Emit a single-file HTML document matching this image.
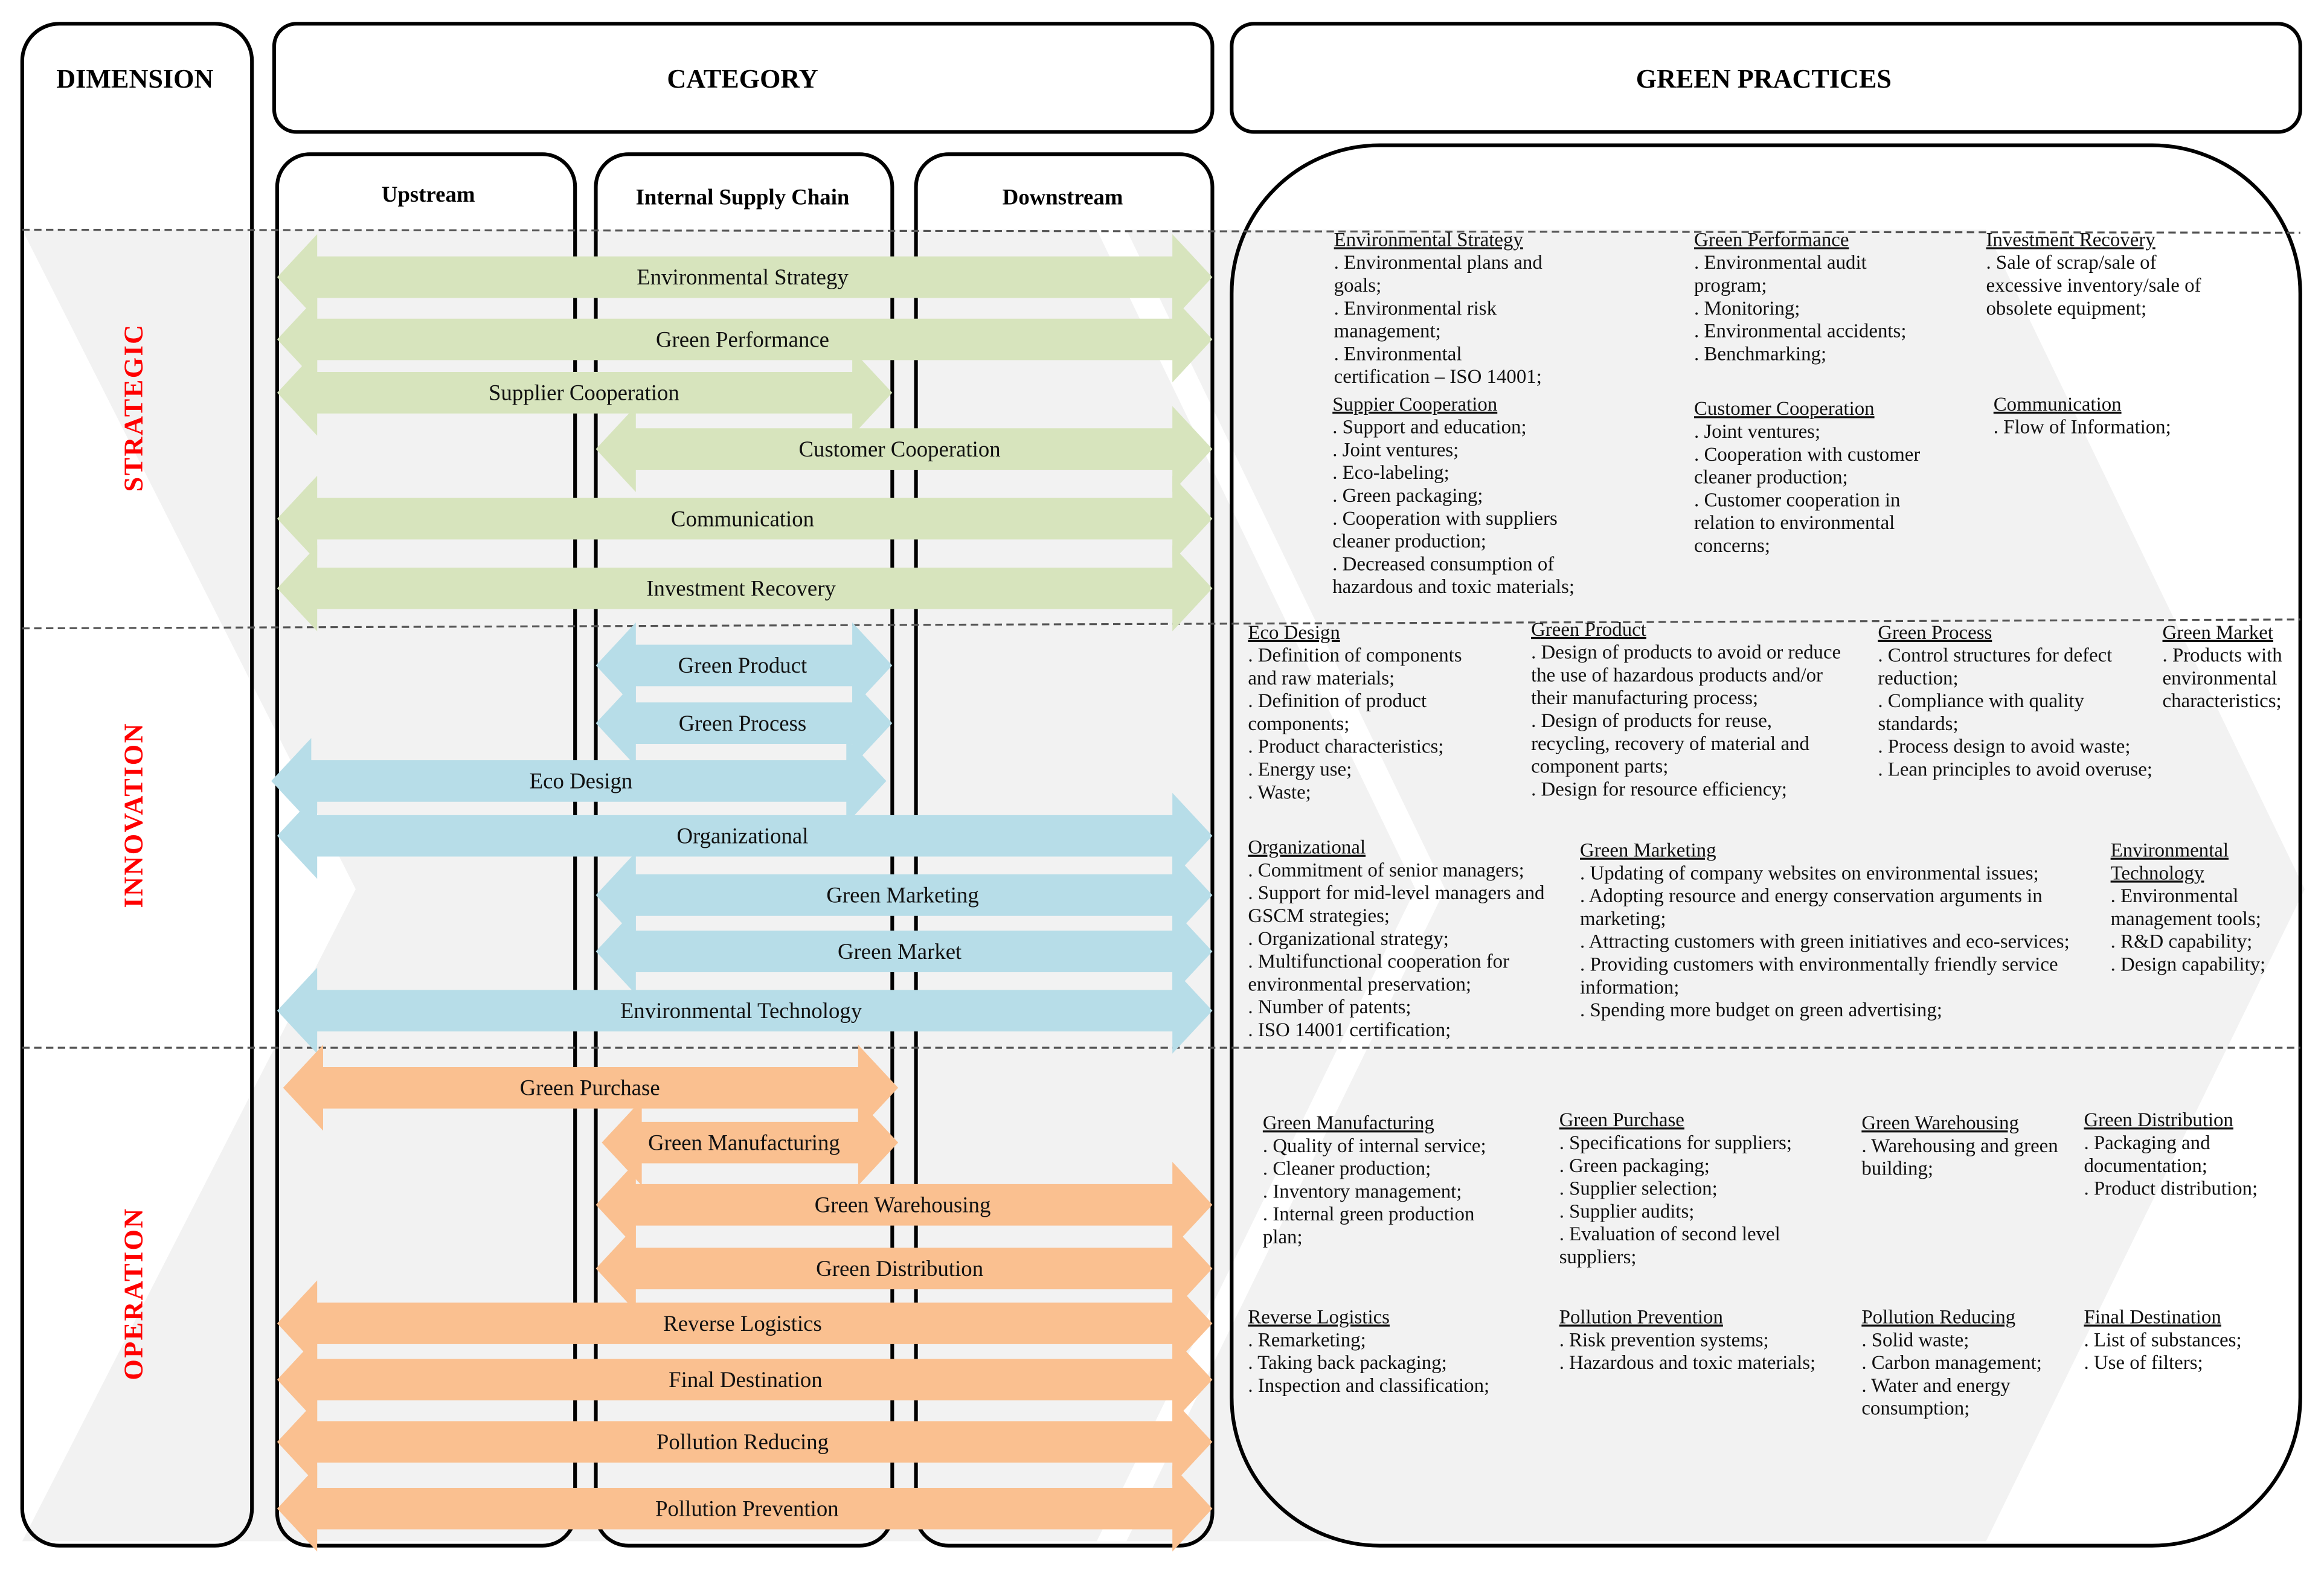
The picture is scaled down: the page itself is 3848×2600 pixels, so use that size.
<!DOCTYPE html>
<html><head><meta charset="utf-8"><style>
html,body{margin:0;padding:0;background:#fff;}
svg{display:block;}
.h{font-family:"Liberation Serif",serif;font-weight:bold;}
.a{font-family:"Liberation Serif",serif;font-size:15px;text-anchor:middle;fill:#111;}
.t{font-family:"Liberation Serif",serif;font-size:13.4px;fill:#111;}
.u{text-decoration:underline;}
.r{font-family:"Liberation Serif",serif;font-weight:bold;font-size:18px;fill:#f00;text-anchor:middle;letter-spacing:1px;}
</style></head><body>
<svg width="3848" height="2600" viewBox="0 0 1568 1059.4" xmlns="http://www.w3.org/2000/svg">
<defs>
<polygon id="A" points="187,0 214,-29 214,-14 791,-14 791,-29 818,0 791,29 791,14 214,14 214,29"/>
<polygon id="B" points="187,0 214,-29 214,-14 575,-14 575,-29 602,0 575,29 575,14 214,14 214,29"/>
<polygon id="C" points="402,0 429,-29 429,-14 791,-14 791,-29 818,0 791,29 791,14 429,14 429,29"/>
<polygon id="D" points="402,0 429,-29 429,-14 575,-14 575,-29 602,0 575,29 575,14 429,14 429,29"/>
</defs>
<rect width="1568" height="1059.4" fill="#fff"/>
<polygon points="15,155 740,155 955,600 740,1040 15,1040 240,600" fill="#f2f2f2"/>
<polygon points="760,155 1340,155 1555,600 1340,1040 760,1040 975,600" fill="#f2f2f2"/>
<g fill="none" stroke="#000" stroke-width="2.5">
<rect x="15" y="16" width="155" height="1027" rx="25"/>
<rect x="185" y="16" width="633" height="73" rx="15"/>
<rect x="831" y="16" width="721" height="73" rx="15"/>
<rect x="187" y="104" width="201" height="939" rx="22"/>
<rect x="402" y="104" width="200" height="939" rx="22"/>
<rect x="618" y="104" width="200" height="939" rx="22"/>
<rect x="831" y="98" width="721" height="945" rx="100"/>
</g>
<g stroke="#555" stroke-width="1.3" stroke-dasharray="5,3">
<line x1="15" y1="155" x2="1552" y2="157"/>
<line x1="15" y1="424" x2="1552" y2="418"/>
<line x1="15" y1="707" x2="1552" y2="707"/>
</g>
<text class="h" x="91" y="59" font-size="18" text-anchor="middle">DIMENSION</text>
<text class="h" x="501" y="59" font-size="18" text-anchor="middle">CATEGORY</text>
<text class="h" x="1190" y="59" font-size="18" text-anchor="middle">GREEN PRACTICES</text>
<text class="h" x="289" y="136" font-size="15" text-anchor="middle">Upstream</text>
<text class="h" x="501" y="138" font-size="15" text-anchor="middle">Internal Supply Chain</text>
<text class="h" x="717" y="138" font-size="15" text-anchor="middle">Downstream</text>
<text class="r" transform="translate(96,275) rotate(-90)">STRATEGIC</text>
<text class="r" transform="translate(96,550) rotate(-90)">INNOVATION</text>
<text class="r" transform="translate(96,873) rotate(-90)">OPERATION</text>
<g fill="#d7e4bd">
<use href="#A" y="187"/><use href="#A" y="229"/><use href="#B" y="265"/>
<use href="#C" y="303"/><use href="#A" y="350"/><use href="#A" y="397"/>
</g>
<g fill="#b7dde8">
<use href="#D" y="449"/><use href="#D" y="488"/><use href="#B" x="-4" y="527"/>
<use href="#A" y="564"/><use href="#C" y="604"/><use href="#C" y="642"/><use href="#A" y="682"/>
</g>
<g fill="#fac090">
<use href="#B" x="4" y="734"/><use href="#D" x="4" y="771"/><use href="#C" y="813"/>
<use href="#C" y="856"/><use href="#A" y="893"/><use href="#A" y="931"/><use href="#A" y="973"/><use href="#A" y="1018"/>
</g>
<g class="a">
<text x="501" y="192">Environmental Strategy</text>
<text x="501" y="234">Green Performance</text>
<text x="394" y="270">Supplier Cooperation</text>
<text x="607" y="308">Customer Cooperation</text>
<text x="501" y="355">Communication</text>
<text x="500" y="402">Investment Recovery</text>
<text x="501" y="454">Green Product</text>
<text x="501" y="493">Green Process</text>
<text x="392" y="532">Eco Design</text>
<text x="501" y="569">Organizational</text>
<text x="609" y="609">Green Marketing</text>
<text x="607" y="647">Green Market</text>
<text x="500" y="687">Environmental Technology</text>
<text x="398" y="739">Green Purchase</text>
<text x="502" y="776">Green Manufacturing</text>
<text x="609" y="818">Green Warehousing</text>
<text x="607" y="861">Green Distribution</text>
<text x="501" y="898">Reverse Logistics</text>
<text x="503" y="936">Final Destination</text>
<text x="501" y="978">Pollution Reducing</text>
<text x="504" y="1023">Pollution Prevention</text>
</g>
<g class="t">
<text x="900" y="166"><tspan class="u">Environmental Strategy</tspan><tspan x="900" dy="15.4">. Environmental plans and</tspan><tspan x="900" dy="15.4">goals;</tspan><tspan x="900" dy="15.4">. Environmental risk</tspan><tspan x="900" dy="15.4">management;</tspan><tspan x="900" dy="15.4">. Environmental</tspan><tspan x="900" dy="15.4">certification – ISO 14001;</tspan></text>
<text x="1143" y="166"><tspan class="u">Green Performance</tspan><tspan x="1143" dy="15.4">. Environmental audit</tspan><tspan x="1143" dy="15.4">program;</tspan><tspan x="1143" dy="15.4">. Monitoring;</tspan><tspan x="1143" dy="15.4">. Environmental accidents;</tspan><tspan x="1143" dy="15.4">. Benchmarking;</tspan></text>
<text x="1340" y="166"><tspan class="u">Investment Recovery</tspan><tspan x="1340" dy="15.4">. Sale of scrap/sale of</tspan><tspan x="1340" dy="15.4">excessive inventory/sale of</tspan><tspan x="1340" dy="15.4">obsolete equipment;</tspan></text>
<text x="899" y="277"><tspan class="u">Suppier Cooperation</tspan><tspan x="899" dy="15.4">. Support and education;</tspan><tspan x="899" dy="15.4">. Joint ventures;</tspan><tspan x="899" dy="15.4">. Eco-labeling;</tspan><tspan x="899" dy="15.4">. Green packaging;</tspan><tspan x="899" dy="15.4">. Cooperation with suppliers</tspan><tspan x="899" dy="15.4">cleaner production;</tspan><tspan x="899" dy="15.4">. Decreased consumption of</tspan><tspan x="899" dy="15.4">hazardous and toxic materials;</tspan></text>
<text x="1143" y="280"><tspan class="u">Customer Cooperation</tspan><tspan x="1143" dy="15.4">. Joint ventures;</tspan><tspan x="1143" dy="15.4">. Cooperation with customer</tspan><tspan x="1143" dy="15.4">cleaner production;</tspan><tspan x="1143" dy="15.4">. Customer cooperation in</tspan><tspan x="1143" dy="15.4">relation to environmental</tspan><tspan x="1143" dy="15.4">concerns;</tspan></text>
<text x="1345" y="277"><tspan class="u">Communication</tspan><tspan x="1345" dy="15.4">. Flow of Information;</tspan></text>
<text x="842" y="431"><tspan class="u">Eco Design</tspan><tspan x="842" dy="15.4">. Definition of components</tspan><tspan x="842" dy="15.4">and raw materials;</tspan><tspan x="842" dy="15.4">. Definition of product</tspan><tspan x="842" dy="15.4">components;</tspan><tspan x="842" dy="15.4">. Product characteristics;</tspan><tspan x="842" dy="15.4">. Energy use;</tspan><tspan x="842" dy="15.4">. Waste;</tspan></text>
<text x="1033" y="429"><tspan class="u">Green Product</tspan><tspan x="1033" dy="15.4">. Design of products to avoid or reduce</tspan><tspan x="1033" dy="15.4">the use of hazardous products and/or</tspan><tspan x="1033" dy="15.4">their manufacturing process;</tspan><tspan x="1033" dy="15.4">. Design of products for reuse,</tspan><tspan x="1033" dy="15.4">recycling, recovery of material and</tspan><tspan x="1033" dy="15.4">component parts;</tspan><tspan x="1033" dy="15.4">. Design for resource efficiency;</tspan></text>
<text x="1267" y="431"><tspan class="u">Green Process</tspan><tspan x="1267" dy="15.4">. Control structures for defect</tspan><tspan x="1267" dy="15.4">reduction;</tspan><tspan x="1267" dy="15.4">. Compliance with quality</tspan><tspan x="1267" dy="15.4">standards;</tspan><tspan x="1267" dy="15.4">. Process design to avoid waste;</tspan><tspan x="1267" dy="15.4">. Lean principles to avoid overuse;</tspan></text>
<text x="1459" y="431"><tspan class="u">Green Market</tspan><tspan x="1459" dy="15.4">. Products with</tspan><tspan x="1459" dy="15.4">environmental</tspan><tspan x="1459" dy="15.4">characteristics;</tspan></text>
<text x="842" y="576"><tspan class="u">Organizational</tspan><tspan x="842" dy="15.4">. Commitment of senior managers;</tspan><tspan x="842" dy="15.4">. Support for mid-level managers and</tspan><tspan x="842" dy="15.4">GSCM strategies;</tspan><tspan x="842" dy="15.4">. Organizational strategy;</tspan><tspan x="842" dy="15.4">. Multifunctional cooperation for</tspan><tspan x="842" dy="15.4">environmental preservation;</tspan><tspan x="842" dy="15.4">. Number of patents;</tspan><tspan x="842" dy="15.4">. ISO 14001 certification;</tspan></text>
<text x="1066" y="578"><tspan class="u">Green Marketing</tspan><tspan x="1066" dy="15.4">. Updating of company websites on environmental issues;</tspan><tspan x="1066" dy="15.4">. Adopting resource and energy conservation arguments in</tspan><tspan x="1066" dy="15.4">marketing;</tspan><tspan x="1066" dy="15.4">. Attracting customers with green initiatives and eco-services;</tspan><tspan x="1066" dy="15.4">. Providing customers with environmentally friendly service</tspan><tspan x="1066" dy="15.4">information;</tspan><tspan x="1066" dy="15.4">. Spending more budget on green advertising;</tspan></text>
<text x="1424" y="578"><tspan class="u">Environmental</tspan><tspan x="1424" dy="15.4" class="u">Technology</tspan><tspan x="1424" dy="15.4">. Environmental</tspan><tspan x="1424" dy="15.4">management tools;</tspan><tspan x="1424" dy="15.4">. R&amp;D capability;</tspan><tspan x="1424" dy="15.4">. Design capability;</tspan></text>
<text x="852" y="762"><tspan class="u">Green Manufacturing</tspan><tspan x="852" dy="15.4">. Quality of internal service;</tspan><tspan x="852" dy="15.4">. Cleaner production;</tspan><tspan x="852" dy="15.4">. Inventory management;</tspan><tspan x="852" dy="15.4">. Internal green production</tspan><tspan x="852" dy="15.4">plan;</tspan></text>
<text x="1052" y="760"><tspan class="u">Green Purchase</tspan><tspan x="1052" dy="15.4">. Specifications for suppliers;</tspan><tspan x="1052" dy="15.4">. Green packaging;</tspan><tspan x="1052" dy="15.4">. Supplier selection;</tspan><tspan x="1052" dy="15.4">. Supplier audits;</tspan><tspan x="1052" dy="15.4">. Evaluation of second level</tspan><tspan x="1052" dy="15.4">suppliers;</tspan></text>
<text x="1256" y="762"><tspan class="u">Green Warehousing</tspan><tspan x="1256" dy="15.4">. Warehousing and green</tspan><tspan x="1256" dy="15.4">building;</tspan></text>
<text x="1406" y="760"><tspan class="u">Green Distribution</tspan><tspan x="1406" dy="15.4">. Packaging and</tspan><tspan x="1406" dy="15.4">documentation;</tspan><tspan x="1406" dy="15.4">. Product distribution;</tspan></text>
<text x="842" y="893"><tspan class="u">Reverse Logistics</tspan><tspan x="842" dy="15.4">. Remarketing;</tspan><tspan x="842" dy="15.4">. Taking back packaging;</tspan><tspan x="842" dy="15.4">. Inspection and classification;</tspan></text>
<text x="1052" y="893"><tspan class="u">Pollution Prevention</tspan><tspan x="1052" dy="15.4">. Risk prevention systems;</tspan><tspan x="1052" dy="15.4">. Hazardous and toxic materials;</tspan></text>
<text x="1256" y="893"><tspan class="u">Pollution Reducing</tspan><tspan x="1256" dy="15.4">. Solid waste;</tspan><tspan x="1256" dy="15.4">. Carbon management;</tspan><tspan x="1256" dy="15.4">. Water and energy</tspan><tspan x="1256" dy="15.4">consumption;</tspan></text>
<text x="1406" y="893"><tspan class="u">Final Destination</tspan><tspan x="1406" dy="15.4">. List of substances;</tspan><tspan x="1406" dy="15.4">. Use of filters;</tspan></text>
</g>
</svg>
</body></html>
